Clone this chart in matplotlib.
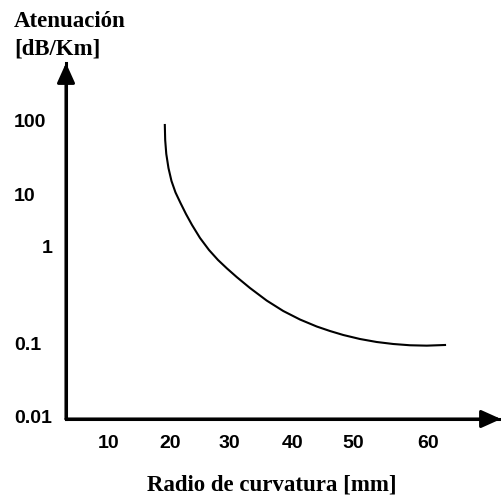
import numpy as np
import matplotlib
matplotlib.use("Agg")
import matplotlib.pyplot as plt
from matplotlib import transforms

# radio de curvatura [mm] vs atenuación [dB/Km]
radio_mm = [19.15, 19.21, 19.39, 19.75, 20.25, 20.93, 21.78, 22.71, 23.73, 25.08, 26.61,
            28.14, 29.66, 31.2, 33.28, 35.89, 38.48, 41.17, 43.95, 46.17, 48.38, 50.93,
            53.16, 55.37, 57.6, 59.83, 62.27]
atenuacion = [85.6, 53.7, 34.8, 22.4, 15.0, 10.5, 6.71, 4.12, 2.54, 1.43, 0.909,
              0.716, 0.585, 0.477, 0.367, 0.272, 0.212, 0.173, 0.1465, 0.1315, 0.1196, 0.1087,
              0.1012, 0.0954, 0.0917, 0.0906, 0.0925]

x_ticks = [10, 20, 30, 40, 50, 60]
y_ticks = [0.01, 0.1, 1, 10, 100]
y_labels = ["0.01", "0.1", "1", "10", "100"]

# tick spacing is hand-drawn (not uniform), so each axis goes through a
# piecewise mapping: tick value -> pixel position on the sheet
x_cols = [109, 170, 229, 293, 353, 428]
y_rows = [416, 342.5, 246, 194, 120]

W, H = 502, 497


def lin_extrap(v, xp, fp):
    v = np.asarray(v, dtype=float)
    out = np.interp(v, xp, fp)
    lo = fp[0] + (v - xp[0]) * (fp[1] - fp[0]) / (xp[1] - xp[0])
    hi = fp[-1] + (v - xp[-1]) * (fp[-1] - fp[-2]) / (xp[-1] - xp[-2])
    out = np.where(v < xp[0], lo, out)
    out = np.where(v > xp[-1], hi, out)
    return out


y_log = np.log10(y_ticks)
y_pos = [-r for r in y_rows]


def x_fwd(v):
    return lin_extrap(v, x_ticks, x_cols)


def x_inv(p):
    return lin_extrap(p, x_cols, x_ticks)


def y_fwd(v):
    return lin_extrap(np.log10(np.clip(v, 1e-9, None)), y_log, y_pos)


def y_inv(p):
    return 10 ** lin_extrap(p, y_pos, y_log)


fig = plt.figure(figsize=(W / 100, H / 100), dpi=100)
x0, x1, ytop, ybot = 66, 501, 63, 419
ax = fig.add_axes([x0 / W, 1 - ybot / H, (x1 - x0) / W, (ybot - ytop) / H])
ax.set_xscale('function', functions=(x_fwd, x_inv))
ax.set_yscale('function', functions=(y_fwd, y_inv))
ax.set_xlim(float(x_inv(x0)), float(x_inv(x1)))
ax.set_ylim(float(y_inv(-ybot)), float(y_inv(-ytop)))

ax.plot(radio_mm, atenuacion, color='black', lw=1.5, solid_joinstyle='round')

for s in ['top', 'right']:
    ax.spines[s].set_visible(False)
for s in ['left', 'bottom']:
    ax.spines[s].set_linewidth(2.2)
ax.set_xticks([])
ax.set_yticks([])
ax.minorticks_off()

# arrow heads on both axes
head = dict(arrowstyle='-|>,head_length=1.0,head_width=0.45', color='black', lw=2.2,
            mutation_scale=12, shrinkA=0, shrinkB=0)
ax.annotate('', xy=(0, 1), xytext=(0, 0), xycoords='axes fraction', arrowprops=head)
ax.annotate('', xy=(1, 0), xytext=(0, 0), xycoords='axes fraction', arrowprops=head)

tick_font = dict(family='Liberation Sans', weight='bold', fontsize=14)
serif_font = dict(family='Liberation Serif', weight='bold', fontsize=16.5)

# y labels: left aligned, "1" sits further right
ytrans = transforms.blended_transform_factory(fig.transFigure, ax.transData)
ytrans = transforms.offset_copy(ytrans, fig=fig, y=-7, units='dots')
y_left = [14, 14, 42, 14, 14]
for v, lab, xl in zip(y_ticks, y_labels, y_left):
    ax.text(xl / W, v, lab, transform=ytrans, ha='left', va='baseline', **tick_font)

xtrans = transforms.blended_transform_factory(ax.transData, fig.transFigure)
for v in x_ticks:
    ax.text(v, 1 - 448 / H, str(v), transform=xtrans, ha='center', va='baseline',
            **tick_font)

fig.text(14 / W, 1 - 27 / H, 'Atenuación', ha='left', va='baseline', **serif_font)
fig.text(14 / W, 1 - 55 / H, '[dB/Km]', ha='left', va='baseline', **serif_font)
fig.text(271.5 / W, 1 - 491 / H, 'Radio de curvatura [mm]', ha='center', va='baseline',
         **serif_font)

fig.savefig('out.png', dpi=100)
